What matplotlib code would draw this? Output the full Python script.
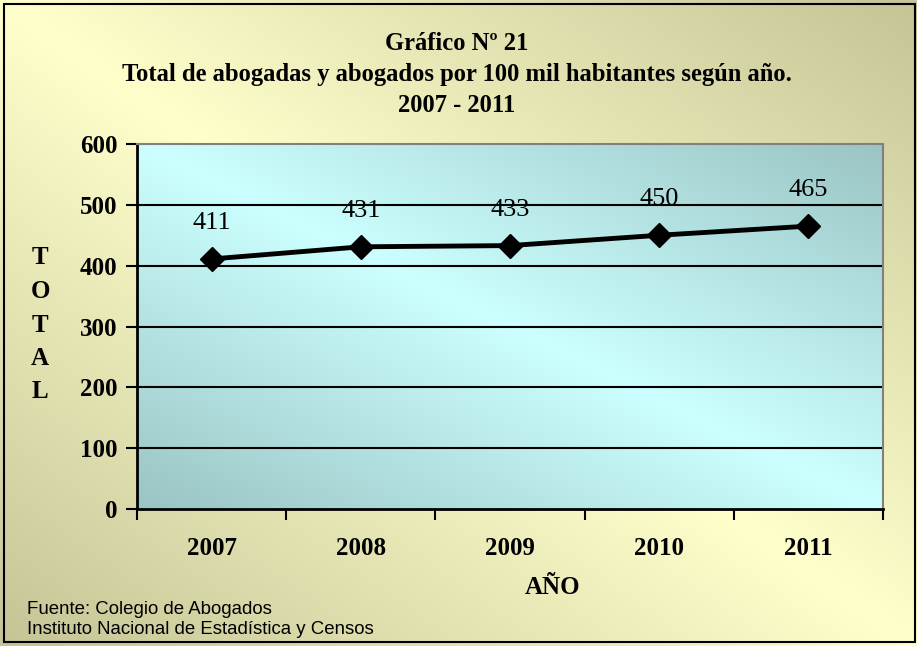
import matplotlib.pyplot as plt
import numpy as np
from matplotlib.colors import LinearSegmentedColormap
from matplotlib.patches import Rectangle

years = ['2007', '2008', '2009', '2010', '2011']
totals = [411, 431, 433, 450, 465]
y_ticks = [0, 100, 200, 300, 400, 500, 600]

W, H = 917, 646
fig = plt.figure(figsize=(W / 100, H / 100), dpi=100)

serif = ['Liberation Serif', 'DejaVu Serif']
sans = ['Liberation Sans', 'DejaVu Sans']


def px_axes(x0, y0, x1, y1, **kw):
    # pixel box (top-left origin) -> figure axes
    return fig.add_axes([x0 / W, 1 - y1 / H, (x1 - x0) / W, (y1 - y0) / H], **kw)


def diag_gradient(n=300):
    x = np.linspace(0, 1, n)
    xx, yy = np.meshgrid(x, x)
    return np.abs(xx - yy)


# figure background, light band from top-left to bottom-right
bg = fig.add_axes([0, 0, 1, 1], zorder=-10)
bg_cmap = LinearSegmentedColormap.from_list('bg', ['#FFFFCC', '#C4C496'])
bg.imshow(diag_gradient(), cmap=bg_cmap, aspect='auto', extent=[0, 1, 0, 1],
          origin='upper', vmin=0, vmax=1)
bg.set_xlim(0, 1)
bg.set_ylim(0, 1)
bg.axis('off')
fig.patches.append(Rectangle((4 / W, 4 / H), (W - 6) / W, (H - 8) / H, transform=fig.transFigure,
                             fill=False, edgecolor='black', linewidth=1.5, zorder=5))

ax = px_axes(137, 144, 883, 509)
x = np.arange(len(years))
ax.set_xlim(-0.5, len(years) - 0.5)
ax.set_ylim(0, 600)

plot_cmap = LinearSegmentedColormap.from_list('pl', ['#CCFFFF', '#9BC4C4'])
ax.imshow(diag_gradient(), cmap=plot_cmap, aspect='auto',
          extent=[-0.5, len(years) - 0.5, 0, 600], origin='upper', vmin=0, vmax=1, zorder=0)

for v in y_ticks[1:-1]:
    ax.axhline(v, color='black', linewidth=1.5, zorder=1)

ax.plot(x, totals, color='black', linewidth=3.5, marker='D', markersize=12, zorder=3)
for xi, v in zip(x, totals):
    ax.annotate(str(v), (xi, v), xytext=(0, 18), textcoords='offset points', ha='center',
                va='bottom', fontsize=19, family=serif, zorder=4)

ax.set_yticks(y_ticks)
ax.set_yticklabels([str(v) for v in y_ticks], fontsize=18, fontweight='bold', family=serif)
ax.set_xticks(np.arange(-0.5, len(years)), minor=False)
ax.set_xticklabels([])
ax.set_xticks(x, minor=True)
ax.set_xticklabels(years, minor=True, fontsize=18, fontweight='bold', family=serif)
ax.tick_params(axis='x', which='minor', length=0, pad=20)
ax.tick_params(axis='x', which='major', direction='out', length=8, width=1.5)
ax.tick_params(axis='y', direction='out', length=8, width=1.5, pad=6)

for side in ['left', 'bottom']:
    ax.spines[side].set_linewidth(2)
for side in ['top', 'right']:
    ax.spines[side].set_color('#808080')
    ax.spines[side].set_linewidth(1.5)

fig.text(553 / W, 1 - 588 / H, 'AÑO', ha='center', va='center', fontsize=18,
         fontweight='bold', family=serif)
for i, ch in enumerate('TOTAL'):
    fig.text(40 / W, 1 - (258 + i * 33.5) / H, ch, ha='center', va='center', fontsize=18,
             fontweight='bold', family=serif)

titles = ['Gráfico Nº 21', 'Total de abogadas y abogados por 100 mil habitantes según año.',
          '2007 - 2011']
for ty, t in zip([43, 75, 105], titles):
    fig.text(457 / W, 1 - ty / H, t, ha='center', va='center', fontsize=17.7,
             fontweight='bold', family=serif)

fig.text(27 / W, 1 - 609 / H, 'Fuente: Colegio de Abogados', ha='left', va='center',
         fontsize=13.4, family=sans)
fig.text(27 / W, 1 - 630 / H, 'Instituto Nacional de Estadística y Censos', ha='left',
         va='center', fontsize=13.4, family=sans)

fig.savefig('out.png', dpi=100)
